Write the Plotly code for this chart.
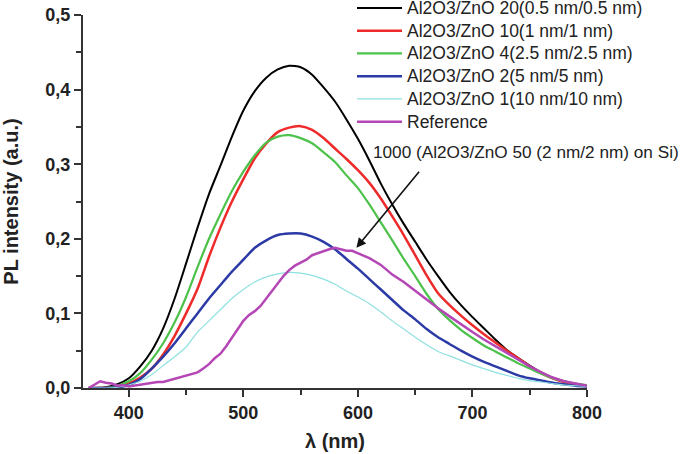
import plotly.graph_objects as go

# wavelengths (nm)
wavelength = [365, 370, 380, 390, 400, 410, 420, 430, 440, 450, 460, 470, 480, 490, 500,
              510, 520, 530, 540, 550, 560, 570, 580, 590, 600, 610, 620, 630, 640, 650,
              660, 670, 680, 690, 700, 710, 720, 730, 740, 750, 760, 770, 780, 790, 800]

s20 = [0.0, 0.0, 0.001, 0.005, 0.013, 0.029, 0.05, 0.08, 0.12, 0.167, 0.215, 0.26, 0.298, 0.337, 0.372,
       0.398, 0.416, 0.427, 0.432, 0.43, 0.42, 0.403, 0.384, 0.36, 0.334, 0.305, 0.274, 0.246, 0.22, 0.196,
       0.172, 0.15, 0.129, 0.111, 0.095, 0.08, 0.065, 0.051, 0.04, 0.03, 0.021, 0.014, 0.009, 0.005, 0.003]

s10 = [0.0, 0.0, 0.0, 0.002, 0.006, 0.014, 0.026, 0.045, 0.07, 0.1, 0.133, 0.176, 0.215, 0.25, 0.28,
       0.308, 0.328, 0.343, 0.349, 0.351, 0.346, 0.335, 0.321, 0.307, 0.292, 0.275, 0.254, 0.23, 0.205, 0.178,
       0.151, 0.127, 0.111, 0.097, 0.084, 0.072, 0.061, 0.05, 0.04, 0.029, 0.02, 0.013, 0.008, 0.005, 0.003]

s4 = [0.0, 0.0, 0.0, 0.003, 0.009, 0.02, 0.038, 0.06, 0.088, 0.122, 0.162, 0.2, 0.233, 0.264, 0.29,
      0.312, 0.329, 0.337, 0.339, 0.335, 0.328, 0.316, 0.303, 0.285, 0.268, 0.246, 0.222, 0.198, 0.173, 0.15,
      0.126, 0.106, 0.091, 0.078, 0.067, 0.057, 0.049, 0.041, 0.033, 0.026, 0.019, 0.013, 0.009, 0.006, 0.004]

s2 = [0.0, 0.0, 0.0, 0.001, 0.004, 0.012, 0.026, 0.042, 0.06, 0.08, 0.1, 0.12, 0.138, 0.156, 0.172,
      0.188, 0.198, 0.205, 0.207, 0.207, 0.203, 0.196, 0.186, 0.173, 0.16, 0.146, 0.132, 0.118, 0.104, 0.092,
      0.079, 0.068, 0.059, 0.05, 0.042, 0.035, 0.029, 0.023, 0.017, 0.013, 0.01, 0.007, 0.005, 0.003, 0.002]

s1 = [0.0, 0.0, 0.0, 0.001, 0.004, 0.009, 0.018, 0.03, 0.042, 0.055, 0.075, 0.09, 0.105, 0.12, 0.132,
      0.142, 0.149, 0.153, 0.155, 0.154, 0.151, 0.146, 0.139, 0.13, 0.122, 0.113, 0.102, 0.09, 0.079, 0.068,
      0.058, 0.049, 0.043, 0.037, 0.031, 0.026, 0.021, 0.017, 0.013, 0.01, 0.008, 0.006, 0.004, 0.003, 0.002]

ref_wavelength = [365, 370, 375, 380, 385, 390, 395, 400, 405, 410, 415, 420, 425, 430, 435, 440,
                  445, 450, 455, 460, 465, 470, 475, 480, 485, 490, 495, 500, 505, 510, 515, 520,
                  525, 530, 535, 540, 545, 550, 555, 560, 565, 570, 575, 580, 585, 590, 595, 600,
                  605, 610, 620, 630, 640, 650, 660, 670, 680, 690, 700, 710, 720, 730, 740, 750,
                  760, 770, 780, 790, 800]
reference = [0.0, 0.004, 0.009, 0.007, 0.006, 0.003, 0.004, 0.002, 0.003, 0.005, 0.006, 0.006, 0.008, 0.008, 0.01, 0.013,
             0.015, 0.017, 0.019, 0.021, 0.026, 0.032, 0.04, 0.046, 0.056, 0.067, 0.078, 0.09, 0.098, 0.103, 0.11, 0.12,
             0.13, 0.141, 0.15, 0.158, 0.164, 0.168, 0.172, 0.178, 0.181, 0.183, 0.186, 0.188, 0.186, 0.184, 0.184, 0.181,
             0.178, 0.174, 0.165, 0.152, 0.142, 0.13, 0.119, 0.107, 0.096, 0.085, 0.075, 0.065, 0.056, 0.046, 0.037, 0.029,
             0.021, 0.014, 0.009, 0.006, 0.003]

names = ["Al2O3/ZnO 20(0.5 nm/0.5 nm)", "Al2O3/ZnO 10(1 nm/1 nm)", "Al2O3/ZnO 4(2.5 nm/2.5 nm)",
         "Al2O3/ZnO 2(5 nm/5 nm)", "Al2O3/ZnO 1(10 nm/10 nm)", "Reference"]
colors = ["#000000", "#ee2a2a", "#4cc24a", "#2c3aa6", "#8fe0e0", "#b546b5"]
widths = [2, 2.5, 2.2, 2.5, 1.2, 2.5]

FONT = "Arial, Liberation Sans, sans-serif"


def legend_label(text):
    return '<span style="font-size:17.5px">' + text + '</span>'


fig = go.Figure()
series = [s20, s10, s4, s2, s1]
for i, s in enumerate(series):
    fig.add_trace(go.Scatter(x=wavelength, y=s, mode="lines", name=legend_label(names[i]),
                             line=dict(color=colors[i], width=widths[i], shape="spline", smoothing=0.6)))
fig.add_trace(go.Scatter(x=ref_wavelength, y=reference, mode="lines", name=legend_label(names[5]),
                         line=dict(color=colors[5], width=widths[5])))

axis_common = dict(showline=True, linecolor="#333333", linewidth=2, ticks="outside", ticklen=7,
                   tickwidth=2, tickcolor="#333333", showgrid=False, zeroline=False, automargin=False,
                   tickfont=dict(family=FONT, size=18, color="#222222", weight="bold"))

fig.update_xaxes(range=[360, 800], tick0=400, dtick=100,
                 minor=dict(dtick=50, ticks="outside", ticklen=5, tickwidth=2, tickcolor="#333333"),
                 title=dict(text="λ (nm)", font=dict(family=FONT, size=20, color="#222222", weight="bold"), standoff=12),
                 **axis_common)
fig.update_yaxes(range=[0, 0.5], dtick=0.1, tickformat=".1f",
                 minor=dict(dtick=0.05, ticks="outside", ticklen=5, tickwidth=2, tickcolor="#333333"),
                 title=dict(text="PL intensity (a.u.)", font=dict(family=FONT, size=20, color="#222222", weight="bold"), standoff=23),
                 **axis_common)

fig.add_annotation(x=598.7, y=0.188, ax=654.5, ay=0.292, xref="x", yref="y", axref="x", ayref="y",
                   text="", showarrow=True, arrowhead=2, arrowsize=1.2, arrowwidth=1.6, arrowcolor="#111111")
fig.add_annotation(x=611.5, y=0.316, xref="x", yref="y", xanchor="left", yanchor="middle",
                   text="1000 (Al2O3/ZnO 50 (2 nm/2 nm) on Si)", showarrow=False,
                   font=dict(family=FONT, size=17.2, color="#222222"))

fig.update_layout(
    width=685, height=454,
    margin=dict(l=83, r=98, t=15, b=66, autoexpand=False),
    paper_bgcolor="white", plot_bgcolor="white",
    separators=", ",
    showlegend=True,
    legend=dict(x=(352 - 83) / 504, y=1 + 23.5 / 373, xanchor="left", yanchor="top", bgcolor="rgba(0,0,0,0)",
                font=dict(family=FONT, size=15.2, color="#222222"), itemwidth=45,
                tracegroupgap=0),
)

fig.write_html("out.html", config={"displayModeBar": False},
               post_script="document.body.style.margin='0';")
